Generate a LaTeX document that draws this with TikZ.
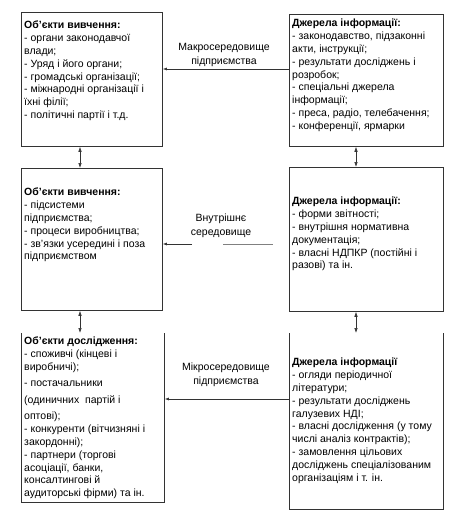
\documentclass[tikz,border=0pt]{standalone}
\usepackage{fontspec}
\setmainfont{Liberation Sans}
\usetikzlibrary{arrows.meta}

\tikzset{
  frame/.style={draw=black!80, line width=0.8pt, inner sep=0pt, anchor=north west},
  txt/.style={anchor=north west, align=left, inner sep=0pt, font=\fontsize{10.5}{12.8}\selectfont},
  lbl/.style={align=center, inner sep=0pt, font=\fontsize{10.5}{13.5}\selectfont},
  link/.style={draw=black!80, line width=0.6pt},
  tip/.style={-{Latex[length=4pt,width=3pt]}},
  dbl/.style={link, {Latex[length=5pt,width=3.5pt]}-{Latex[length=5pt,width=3.5pt]}},
}

\begin{document}
\begin{tikzpicture}[x=1pt,y=-1pt]
\useasboundingbox (0,0) rectangle (469,519);

% Boxes, left column
\node[frame, minimum width=141pt, minimum height=134pt] (ob1) at (21,12) {};
\node[frame, minimum width=141pt, minimum height=142pt] (ob2) at (21,168) {};
\node[frame, draw=none, minimum width=143pt, minimum height=169pt] (ob3) at (21,333) {};
\draw[frame] (ob3.north west) -- (ob3.south west) -- (ob3.south east) -- (ob3.north east);

% Boxes, right column
\node[frame, minimum width=154pt, minimum height=132pt] (ri1) at (289,14) {};
\node[frame, minimum width=154pt, minimum height=144pt] (ri2) at (289,167) {};
\node[frame, draw=none, minimum width=154pt, minimum height=176pt] (ri3) at (289,333) {};
\draw[frame] (ri3.north west) -- (ri3.south west) -- (ri3.south east) -- (ri3.north east);

% Texts, left column
\node[txt] (t1) at (24,21) {\textbf{Об'єкти вивчення:}\\
- органи законодавчої\\ влади;\\
- Уряд і його органи;\\
- громадські організації;\\
- міжнародні організації і\\ їхні філії;\\
- політичні партії і т.д.};
\node[txt] (t2) at (24,188) {\textbf{Об'єкти вивчення:}\\
- підсистеми\\ підприємства;\\
- процеси виробництва;\\
- зв'язки усередині і поза\\ підприємством};
\node[txt] (t3) at (24,337) {\textbf{Об'єкти дослідження:}\\
- споживчі (кінцеві і\\ виробничі);\\[3pt]
- постачальники\\[4pt]
(одиничних~ партій і\\[4pt]
оптові);\\
- конкуренти (вітчизняні і\\ закордонні);\\
- партнери (торгові\\ асоціації, банки,\\
консалтингові й\\ аудиторські фірми) та ін.};

% Texts, right column
\node[txt] (s1) at (292,19) {\textbf{Джерела інформації:}\\
- законодавство, підзаконні\\ акти, інструкції;\\
- результати досліджень і\\ розробок;\\
- спеціальні джерела\\ інформації;\\
- преса, радіо, телебачення;\\
- конференції, ярмарки};
\node[txt] (s2) at (292,197) {\textbf{Джерела інформації:}\\
- форми звітності;\\
- внутрішня нормативна\\ документація;\\
- власні НДПКР (постійні і\\ разові) та ін.};
\node[txt] (s3) at (292,358) {\textbf{Джерела інформації}\\
- огляди періодичної\\ літератури;\\
- результати досліджень\\ галузевих НДІ;\\
- власні дослідження (у тому\\ числі аналіз контрактів);\\
- замовлення цільових\\ досліджень спеціалізованим\\
організаціям і т. ін.};

% Environment labels
\node[lbl] (macro) at (224,55) {Макросередовище\\ підприємства};
\node[lbl] (inner) at (221,226) {Внутрішнє\\ середовище};
\node[lbl] (micro) at (226,375) {Мікросередовище\\ підприємства};

% Connectors
\coordinate (lx) at (80,0);
\coordinate (rx) at (356,0);
\coordinate (macy) at (0,69);
\coordinate (micy) at (0,399);
\coordinate (inl) at (192,244);
\coordinate (inr) at (223,244);
\coordinate (ine) at (273,244);

\draw[dbl] (ob1.south -| lx) -- (ob2.north -| lx);
\draw[dbl] (ob2.south -| lx) -- (ob3.north -| lx);
\draw[dbl] (ri1.south -| rx) -- (ri2.north -| rx);
\draw[dbl] (ri2.south -| rx) -- (ri3.north -| rx);

\draw[link, tip] (ri1.west |- macy) -- (ob1.east |- macy);
\draw[link, tip] (inl) -- (ob2.east |- inl);
\draw[link, draw=black!50] (inr) -- (ine);
\draw[link, tip] (ri3.west |- micy) -- (ob3.east |- micy);

\end{tikzpicture}
\end{document}
